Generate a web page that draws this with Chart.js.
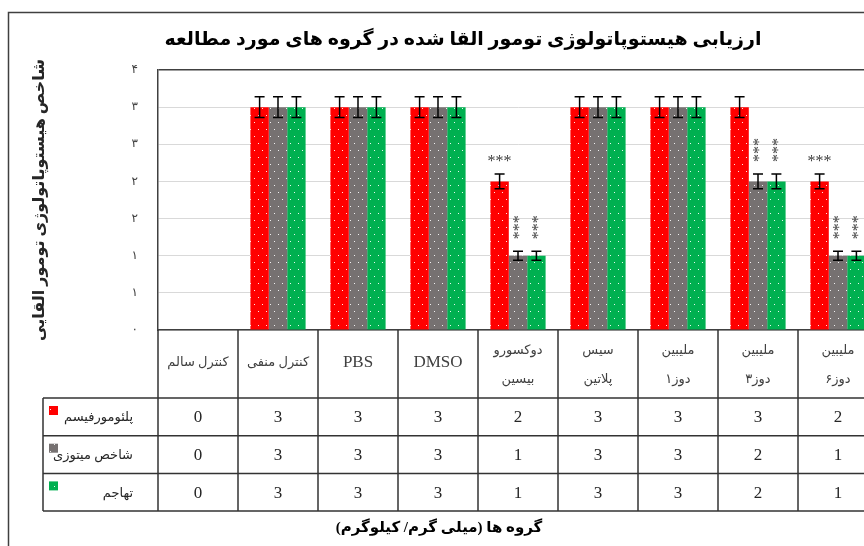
<!DOCTYPE html>
<html>
<head>
<meta charset="utf-8">
<script src="https://cdn.jsdelivr.net/npm/chart.js@4"></script>
<style>
  html, body { margin: 0; padding: 0; background: #fff; overflow: hidden; }
  #wrap { width: 890px; height: 546px; }
</style>
</head>
<body>
<div id="wrap"><canvas id="chart" width="890" height="546"></canvas></div>
<script>
// Histopathology scores per study group
const categories = ['کنترل سالم', 'کنترل منفی', 'PBS', 'DMSO', ['دوکسورو', 'بیسین'], ['سیس', 'پلاتین'], ['ملیبین', 'دوز۱'], ['ملیبین', 'دوز۳'], ['ملیبین', 'دوز۶']];
const seriesNames = ['پلئومورفیسم', 'شاخص میتوزی', 'تهاجم'];
const pleomorphism = [0, 3, 3, 3, 2, 3, 3, 3, 2];
const mitoticIndex = [0, 3, 3, 3, 1, 3, 3, 2, 1];
const invasion = [0, 3, 3, 3, 1, 3, 3, 2, 1];
// error bar half-heights
const pleomorphismErr = [0, 0.14, 0.14, 0.14, 0.1, 0.14, 0.14, 0.14, 0.1];
const mitoticIndexErr = [0, 0.14, 0.14, 0.14, 0.06, 0.14, 0.14, 0.1, 0.06];
const invasionErr = [0, 0.14, 0.14, 0.14, 0.06, 0.14, 0.14, 0.1, 0.06];
// significance marks
const pleomorphismSig = ['', '', '', '', '***', '', '', '', '***'];
const mitoticIndexSig = ['', '', '', '', '***', '', '', '***', '***'];
const invasionSig = ['', '', '', '', '***', '', '', '***', '***'];
const yTickLabels = ['۰', '۱', '۱', '۲', '۲', '۳', '۳', '۴'];

const chartTitle = 'ارزیابی هیستوپاتولوژی تومور القا شده در گروه های مورد مطالعه';
const yTitle = 'شاخص هیستوپاتولوژی تومور القایی';
const xTitle = 'گروه ها (میلی گرم/ کیلوگرم)';

const canvas = document.getElementById('chart');
const ctx = canvas.getContext('2d');

// Excel-like dotted fill
function dotted(color) {
  const tile = document.createElement('canvas');
  tile.width = 8; tile.height = 14;
  const g = tile.getContext('2d');
  g.fillStyle = color;
  g.fillRect(0, 0, 8, 14);
  g.fillStyle = 'rgba(255,255,255,0.9)';
  g.fillRect(2, 3, 1, 1);
  g.fillRect(6, 10, 1, 1);
  return ctx.createPattern(tile, 'repeat');
}

const colors = ['#FF0000', '#767171', '#00B050'];
const fills = colors.map(dotted);
const errs = [pleomorphismErr, mitoticIndexErr, invasionErr];
const sigs = [pleomorphismSig, mitoticIndexSig, invasionSig];
const rows = [pleomorphism, mitoticIndex, invasion];

const serifFont = "'Liberation Serif', 'DejaVu Sans', serif";

const extras = {
  id: 'extras',
  afterDatasetsDraw(chart) {
    const c = chart.ctx, y = chart.scales.y;
    c.save();
    c.strokeStyle = '#000';
    c.lineWidth = 1.5;
    chart.data.datasets.forEach((ds, i) => {
      const meta = chart.getDatasetMeta(i);
      meta.data.forEach((bar, j) => {
        const v = ds.data[j], e = errs[i][j];
        const x = bar.x;
        const top = y.getPixelForValue(v + e);
        const bot = y.getPixelForValue(v - e);
        if (e > 0) {
          c.beginPath();
          c.moveTo(x, top); c.lineTo(x, bot);
          c.moveTo(x - 5, top); c.lineTo(x + 5, top);
          c.moveTo(x - 5, bot); c.lineTo(x + 5, bot);
          c.stroke();
        }
        const s = sigs[i][j];
        if (s) {
          c.fillStyle = '#404040';
          c.font = '16px ' + serifFont;
          c.textAlign = 'center';
          c.textBaseline = 'middle';
          if (i === 0) {
            c.fillText(s, x, top - 12);
          } else {
            c.save();
            c.translate(x, top - 24);
            c.rotate(-Math.PI / 2);
            c.fillText(s, 0, 2);
            c.restore();
          }
        }
      });
    });
    c.restore();
  },
  afterDraw(chart) {
    const c = chart.ctx, x = chart.scales.x, area = chart.chartArea;
    c.save();
    // outer frame
    c.strokeStyle = '#404040';
    c.lineWidth = 1.5;
    c.strokeRect(8.5, 12.5, 960, 600);

    // title
    c.fillStyle = '#000';
    c.font = 'bold 19px ' + serifFont;
    c.textAlign = 'center';
    c.textBaseline = 'middle';
    c.fillText(chartTitle, 463, 40);

    // data table
    const colW = x.getPixelForValue(1) - x.getPixelForValue(0);
    const headTop = area.bottom, rowTop = headTop + 68, rowH = 37.7;
    const tableBottom = rowTop + rowH * 3;
    const keyLeft = area.left - 115;
    c.strokeStyle = '#333';
    c.lineWidth = 1.5;
    c.beginPath();
    for (let j = 0; j <= categories.length; j++) {
      const xl = x.getPixelForValue(j) - colW / 2;
      c.moveTo(xl, headTop); c.lineTo(xl, tableBottom);
    }
    c.moveTo(keyLeft, rowTop); c.lineTo(keyLeft, tableBottom);
    for (let r = 0; r <= 3; r++) {
      c.moveTo(keyLeft, rowTop + r * rowH); c.lineTo(area.right + 20, rowTop + r * rowH);
    }
    c.stroke();

    // header labels
    c.fillStyle = '#404040';
    categories.forEach((lab, j) => {
      const cx = x.getPixelForValue(j);
      if (Array.isArray(lab)) {
        c.font = '13px ' + serifFont;
        c.fillText(lab[0], cx, headTop + 21);
        c.fillText(lab[1], cx, headTop + 50);
      } else if (/[A-Za-z]/.test(lab)) {
        c.font = '17px ' + serifFont;
        c.fillText(lab, cx, headTop + 33);
      } else {
        c.font = '13px ' + serifFont;
        c.fillText(lab, cx, headTop + 33);
      }
    });

    // rows: legend key, name, values
    rows.forEach((vals, r) => {
      const top = rowTop + r * rowH, mid = top + rowH / 2;
      c.fillStyle = fills[r];
      c.fillRect(keyLeft + 6, top + 8, 9, 9);
      c.fillStyle = '#262626';
      c.font = '13px ' + serifFont;
      c.textAlign = 'right';
      c.fillText(seriesNames[r], area.left - 25, mid + 1);
      c.textAlign = 'center';
      c.font = '17px ' + serifFont;
      vals.forEach((v, j) => {
        c.fillText(String(v), x.getPixelForValue(j), mid + 1);
      });
    });

    // x axis title
    c.fillStyle = '#000';
    c.font = 'bold 15px ' + serifFont;
    c.fillText(xTitle, 439, 528);
    c.restore();
  }
};

new Chart(canvas, {
  type: 'bar',
  data: {
    labels: categories,
    datasets: seriesNames.map((name, i) => ({
      label: name,
      data: rows[i],
      backgroundColor: fills[i],
      borderWidth: 0,
      categoryPercentage: 0.69,
      barPercentage: 1.0
    }))
  },
  options: {
    responsive: false,
    animation: false,
    layout: { padding: { left: 8, right: 12, top: 70, bottom: 216 } },
    plugins: {
      legend: { display: false },
      tooltip: { enabled: false },
      title: { display: false }
    },
    scales: {
      x: {
        ticks: { display: false },
        grid: { display: false },
        border: { display: true, color: '#404040', width: 1.5 },
        afterFit: axis => { axis.height = 0; }
      },
      y: {
        min: 0,
        max: 3.5,
        ticks: {
          stepSize: 0.5,
          padding: 20,
          color: '#404040',
          font: { family: "'DejaVu Sans'", size: 12 },
          callback: (value, index) => yTickLabels[index]
        },
        grid: {
          drawTicks: false,
          color: c => c.tick.value === 3.5 ? '#404040' : '#d9d9d9',
          lineWidth: c => c.tick.value === 3.5 ? 1.5 : 1
        },
        border: { display: true, color: '#404040', width: 1.5 },
        title: {
          display: true,
          text: yTitle,
          color: '#262626',
          font: { family: serifFont, size: 16, weight: 'bold' },
          padding: { top: 22, bottom: 0 }
        },
        afterFit: axis => { axis.width = 150; }
      }
    }
  },
  plugins: [extras]
});
</script>
</body>
</html>
